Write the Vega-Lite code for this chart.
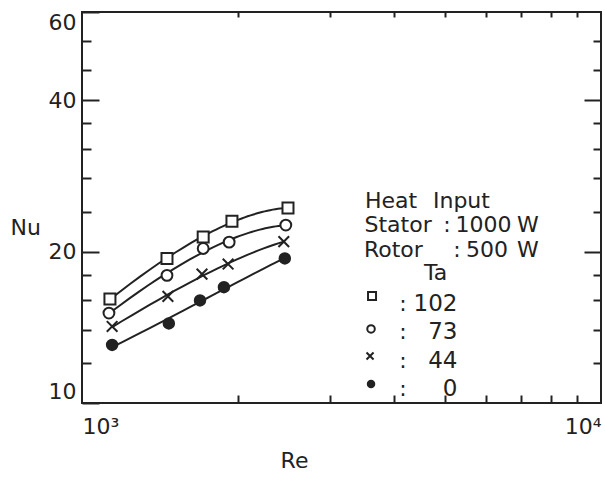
{
  "$schema": "https://vega.github.io/schema/vega-lite/v6.json",
  "width": 519,
  "height": 391,
  "autosize": {"type": "none"},
  "padding": {"left": 82, "top": 12, "right": 4, "bottom": 74},
  "background": "white",
  "config": {
    "view": {"stroke": "#222", "strokeWidth": 2},
    "font": "DejaVu Sans",
    "axis": {
      "domain": false, "grid": false, "tickColor": "#222", "tickWidth": 2,
      "labelColor": "#222", "labelFont": "DejaVu Sans", "labelFontSize": 22,
      "titleFont": "DejaVu Sans", "titleFontSize": 22, "titleFontWeight": "normal", "titleColor": "#222",
      "labelOverlap": false
    }
  },
  "datasets": {
    "points": [
      {"Ta": "102", "Re": 1132, "Nu": 16.1},
      {"Ta": "102", "Re": 1458, "Nu": 19.4},
      {"Ta": "102", "Re": 1712, "Nu": 21.4},
      {"Ta": "102", "Re": 1945, "Nu": 23.0},
      {"Ta": "102", "Re": 2494, "Nu": 24.45},
      {"Ta": "73", "Re": 1127, "Nu": 15.1},
      {"Ta": "73", "Re": 1458, "Nu": 17.95},
      {"Ta": "73", "Re": 1712, "Nu": 20.3},
      {"Ta": "73", "Re": 1921, "Nu": 20.9},
      {"Ta": "73", "Re": 2470, "Nu": 22.6},
      {"Ta": "44", "Re": 1143, "Nu": 14.2},
      {"Ta": "44", "Re": 1464, "Nu": 16.3},
      {"Ta": "44", "Re": 1703, "Nu": 18.05},
      {"Ta": "44", "Re": 1912, "Nu": 18.9},
      {"Ta": "44", "Re": 2448, "Nu": 20.95},
      {"Ta": "0", "Re": 1143, "Nu": 13.05},
      {"Ta": "0", "Re": 1470, "Nu": 14.4},
      {"Ta": "0", "Re": 1688, "Nu": 16.0},
      {"Ta": "0", "Re": 1877, "Nu": 17.0},
      {"Ta": "0", "Re": 2459, "Nu": 19.4}
    ],
    "words": [
      {"t": "Heat", "Re": 3510, "Nu": 24.44},
      {"t": "Input", "Re": 4745, "Nu": 24.44},
      {"t": "Stator", "Re": 3502, "Nu": 21.89},
      {"t": "1000", "Re": 5245, "Nu": 21.89},
      {"t": "W", "Re": 6890, "Nu": 21.89},
      {"t": "Rotor", "Re": 3494, "Nu": 19.52},
      {"t": "500", "Re": 5495, "Nu": 19.52},
      {"t": "W", "Re": 6890, "Nu": 19.52},
      {"t": "Ta", "Re": 4560, "Nu": 17.57}
    ],
    "colons": [
      {"t": ":", "Re": 5050, "Nu": 21.89},
      {"t": ":", "Re": 5278, "Nu": 19.52},
      {"t": ":", "Re": 4154, "Nu": 15.24},
      {"t": ":", "Re": 4154, "Nu": 13.41},
      {"t": ":", "Re": 4154, "Nu": 11.74},
      {"t": ":", "Re": 4154, "Nu": 10.33}
    ],
    "numbers": [
      {"t": "102", "Re": 5290, "Nu": 15.24},
      {"t": "73", "Re": 5290, "Nu": 13.41},
      {"t": "44", "Re": 5290, "Nu": 11.74},
      {"t": "0", "Re": 5290, "Nu": 10.33}
    ],
    "keys": [
      {"Ta": "102", "Re": 3621, "Nu": 16.33},
      {"Ta": "73", "Re": 3605, "Nu": 14.04},
      {"Ta": "44", "Re": 3589, "Nu": 12.40},
      {"Ta": "0", "Re": 3605, "Nu": 10.91}
    ]
  },
  "resolve": {
    "scale": {"size": "independent"},
    "axis": {"x": "independent", "y": "independent"}
  },
  "layer": [
    {
      "data": {"name": "points"},
      "transform": [{"regression": "Nu", "on": "Re", "groupby": ["Ta"], "method": "poly", "order": 2}],
      "mark": {"type": "line", "color": "#222", "strokeWidth": 2},
      "encoding": {
        "x": {
          "field": "Re", "type": "quantitative",
          "scale": {"type": "log", "domain": [1000, 10000], "nice": false},
          "axis": {
            "orient": "bottom", "values": [1000, 10000], "ticks": false, "labelFlush": true,
            "labelPadding": 13, "labelExpr": "datum.value == 1000 ? '10³' : '10⁴'",
            "title": "Re", "titleX": 212, "titleY": 57, "titleAlign": "center", "titleBaseline": "middle"
          }
        },
        "y": {
          "field": "Nu", "type": "quantitative",
          "scale": {"type": "log", "domain": [10, 60], "nice": false},
          "axis": {
            "orient": "left", "values": [10, 20, 40, 60], "tickSize": -17, "labelPadding": 23,
            "labelFlush": true, "title": "Nu", "titleAngle": 0, "titleX": -72, "titleY": 215,
            "titleAlign": "left", "titleBaseline": "middle"
          }
        },
        "detail": {"field": "Ta", "type": "nominal"}
      }
    },
    {
      "data": {"name": "points"},
      "mark": {"type": "point", "filled": false, "stroke": "#222", "strokeWidth": 2, "opacity": 1, "fillOpacity": 1},
      "encoding": {
        "x": {
          "field": "Re", "type": "quantitative",
          "axis": {"orient": "bottom", "values": [2000, 3000, 4000, 5000, 6000, 7000, 8000, 9000], "tickSize": -8, "labels": false, "title": null}
        },
        "y": {
          "field": "Nu", "type": "quantitative",
          "axis": {"orient": "left", "values": [12, 14, 16, 18, 24, 28, 32, 36, 46, 52.5], "tickSize": -9, "labels": false, "title": null}
        },
        "shape": {"field": "Ta", "type": "nominal", "scale": {"domain": ["102", "73", "44", "0"], "range": ["square", "circle", "M-1,-1L1,1M-1,1L1,-1", "circle"]}, "legend": null},
        "fill": {"field": "Ta", "type": "nominal", "scale": {"domain": ["102", "73", "44", "0"], "range": ["white", "white", "white", "#222"]}, "legend": null},
        "size": {"field": "Ta", "type": "ordinal", "scale": {"domain": ["102", "73", "44", "0"], "range": [121, 110, 121, 140]}, "legend": null}
      }
    },
    {
      "data": {"name": "keys"},
      "mark": {"type": "point", "filled": false, "stroke": "#222", "strokeWidth": 2, "opacity": 1, "fillOpacity": 1},
      "encoding": {
        "x": {"field": "Re", "type": "quantitative", "axis": null},
        "y": {
          "field": "Nu", "type": "quantitative",
          "axis": {"orient": "right", "values": [20, 40], "tickSize": -17, "labels": false, "title": null}
        },
        "shape": {"field": "Ta", "type": "nominal", "legend": null},
        "fill": {"field": "Ta", "type": "nominal", "legend": null},
        "size": {"field": "Ta", "type": "ordinal", "scale": {"domain": ["102", "73", "44", "0"], "range": [64, 42, 72, 64]}, "legend": null}
      }
    },
    {
      "data": {"name": "words"},
      "mark": {"type": "text", "align": "left", "baseline": "alphabetic", "fontSize": 22, "color": "#222", "font": "DejaVu Sans"},
      "encoding": {
        "x": {
          "field": "Re", "type": "quantitative",
          "axis": {"orient": "top", "values": [2000, 3000, 4000, 5000, 6000, 7000, 8000, 9000], "tickSize": -5, "labels": false, "title": null}
        },
        "y": {
          "field": "Nu", "type": "quantitative",
          "axis": {"orient": "right", "values": [12, 14, 16, 18, 24, 28, 32, 36, 46, 52.5], "tickSize": -8, "labels": false, "title": null}
        },
        "text": {"field": "t"}
      }
    },
    {
      "data": {"name": "colons"},
      "mark": {"type": "text", "align": "center", "baseline": "alphabetic", "fontSize": 22, "color": "#222", "font": "DejaVu Sans"},
      "encoding": {
        "x": {"field": "Re", "type": "quantitative", "axis": null},
        "y": {"field": "Nu", "type": "quantitative", "axis": null},
        "text": {"field": "t"}
      }
    },
    {
      "data": {"name": "numbers"},
      "mark": {"type": "text", "align": "right", "baseline": "alphabetic", "fontSize": 23, "color": "#222", "font": "DejaVu Sans"},
      "encoding": {
        "x": {"field": "Re", "type": "quantitative", "axis": null},
        "y": {"field": "Nu", "type": "quantitative", "axis": null},
        "text": {"field": "t"}
      }
    }
  ]
}
